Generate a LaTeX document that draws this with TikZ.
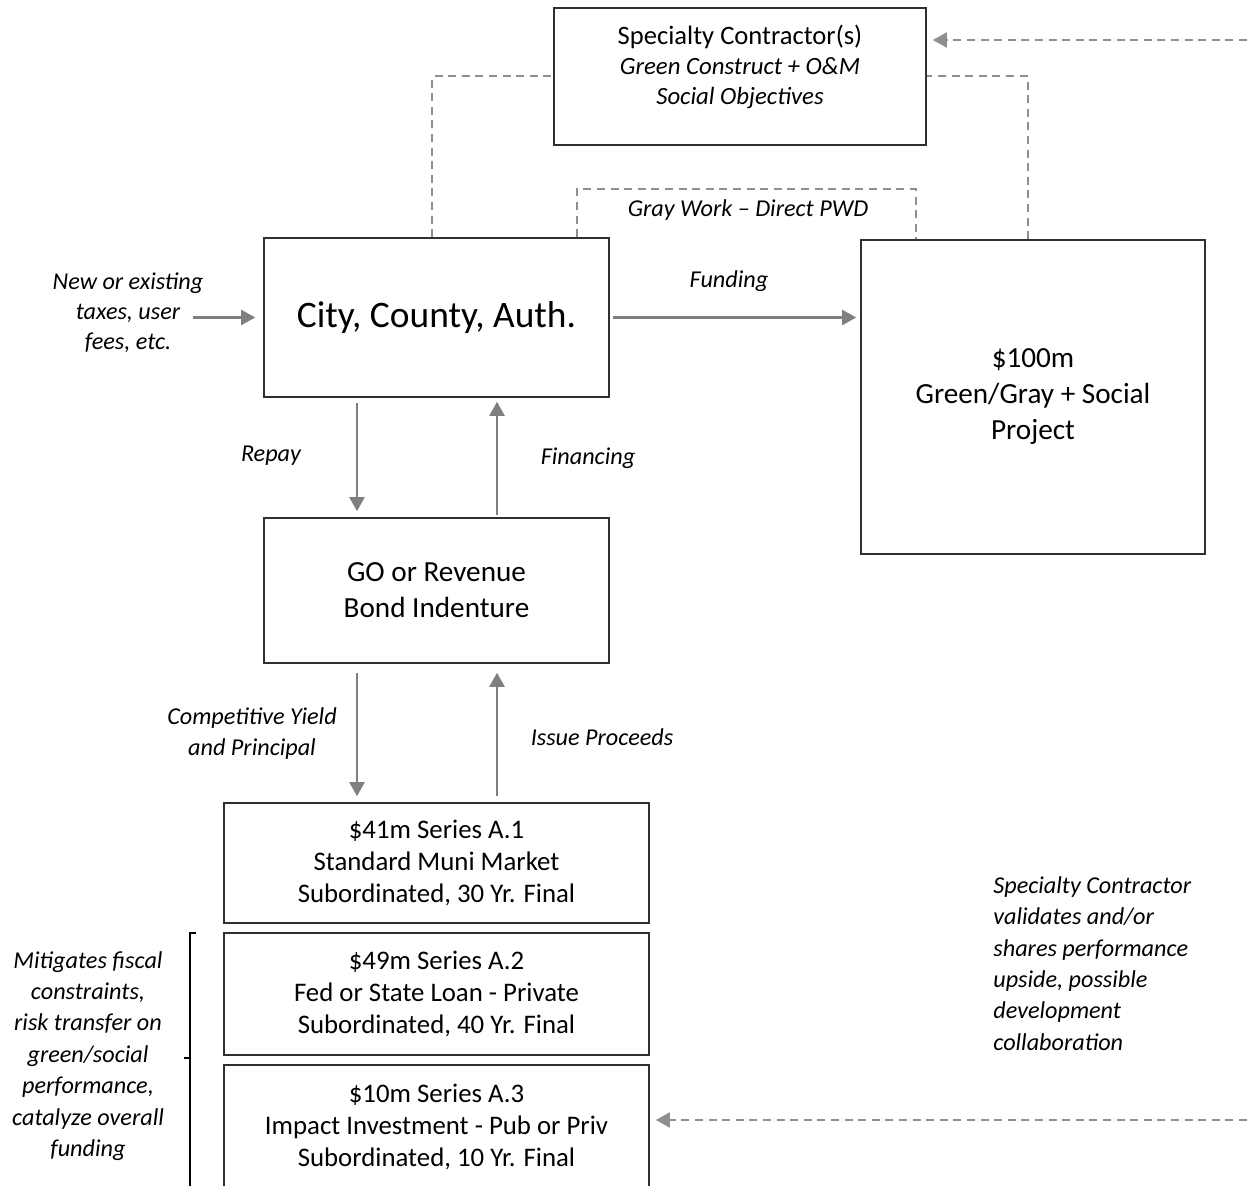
\documentclass[tikz,border=0pt]{standalone}
\usepackage{fontspec}
\setmainfont{Carlito}
\usepackage{tikz}
\usetikzlibrary{positioning,arrows.meta,calc}
\definecolor{flowgray}{HTML}{7F7F7F}
\definecolor{dashgray}{HTML}{8F8F8F}
\definecolor{edgegray}{HTML}{303030}
\tikzset{
  box/.style    ={draw=edgegray, line width=0.8pt, inner sep=0pt, align=center,
                  font=\fontsize{13.4}{16}\selectfont},
  bigbox/.style ={box, font=\fontsize{14.6}{18}\selectfont},
  lbl/.style    ={inner sep=0pt, align=center, font=\itshape\fontsize{12.1}{15.7}\selectfont},
  fl/.style     ={-{Triangle[length=7pt,width=7.5pt]}, draw=flowgray, line width=1.1pt},
  dashln/.style ={draw=dashgray, line width=1pt, dash pattern=on 4pt off 2.8pt},
  dasharr/.style={dashln, -{Triangle[length=7pt,width=7.5pt]}},
}

\begin{document}
\begin{tikzpicture}[x=0.5pt, y=-0.5pt]
  \useasboundingbox (0,0) rectangle (1247,1186);

  % ---- contractor ----------------------------------------------------
  \node[box, minimum width=186pt, minimum height=68.5pt] (spc) at (740,76.5) {};
  \node[inner sep=0pt, align=center, font=\fontsize{13.3}{15}\selectfont] (spctxt) at (740,67)
        {Specialty Contractor(s)\\
         \textit{\fontsize{12.4}{15}\selectfont Green Construct + O\&M}\\
         \textit{\fontsize{12.4}{15}\selectfont Social Objectives}};

  % ---- issuer and project --------------------------------------------
  \node[box, minimum width=172.5pt, minimum height=79.5pt,
        font=\fontsize{18.7}{22}\selectfont] (city) at (436.5,317.5)
        {City, County, Auth.};
  \node[bigbox, minimum width=172pt, minimum height=157pt] (prj) at (1033,397)
        {\$100m\\Green/Gray + Social\\Project};
  \node[lbl, font=\itshape\fontsize{12.1}{15}\selectfont] (tax) at (128,313)
        {New or existing\\taxes, user\\fees, etc.};

  % ---- bond indenture ------------------------------------------------
  \node[bigbox, minimum width=172.5pt, minimum height=72.5pt] (go) at (436.5,590.5)
        {GO or Revenue\\Bond Indenture};

  % ---- series --------------------------------------------------------
  \node[box, minimum width=212.5pt, minimum height=60pt] (a1) at (436.5,863)
        {\$41m Series A.1\\Standard Muni Market\\Subordinated, 30 Yr. Final};
  \node[box, minimum width=212.5pt, minimum height=61pt] (a2) at (436.5,994)
        {\$49m Series A.2\\Fed or State Loan - Private\\Subordinated, 40 Yr. Final};
  \node[box, minimum width=212.5pt, minimum height=62pt] (a3) at (436.5,1127)
        {\$10m Series A.3\\Impact Investment - Pub or Priv\\Subordinated, 10 Yr. Final};

  % ---- labels --------------------------------------------------------
  \node[lbl] (fund)  at (729,281) {Funding};
  \node[lbl] (repay) at (271,456) {Repay};
  \node[lbl] (fin)   at (588,458) {Financing};
  \node[lbl] (yield) at (252,733.5) {Competitive Yield\\and Principal};
  \node[lbl] (issue) at (602,737) {Issue Proceeds};
  \node[lbl] (gw)    at (748,210) {Gray Work -- Direct PWD};
  \node[lbl, align=left, anchor=west] (perf) at (993,963.5)
        {Specialty Contractor\\validates and/or\\shares performance\\upside, possible\\development\\collaboration};
  \node[lbl] (mitig) at (88,1056)
        {Mitigates fiscal\\constraints,\\risk transfer on\\green/social\\performance,\\catalyze overall\\funding};

  % ---- flows ---------------------------------------------------------
  \draw[fl, shorten >=4pt] ([xshift=-5.5pt]tax.east |- city.west) -- (city.west);
  \draw[fl, shorten <=1.5pt, shorten >=2pt] (city.east) -- (prj.west |- city.east);
  \draw[fl, shorten <=2.5pt, shorten >=3pt] ([xshift=-39.75pt]city.south) -- ([xshift=-39.75pt]go.north);
  \draw[fl, shorten <=1pt, shorten >=2pt] ([xshift=30.25pt]go.north) -- ([xshift=30.25pt]city.south);
  \draw[fl, shorten <=4.5pt, shorten >=3pt] ([xshift=-39.75pt]go.south) -- ([xshift=-39.75pt]a1.north);
  \draw[fl, shorten <=3pt, shorten >=4.5pt] ([xshift=30.25pt]a1.north) -- ([xshift=30.25pt]go.south);

  % ---- dashed links --------------------------------------------------
  \draw[dashln] ([xshift=-2.25pt]city.north) |- (spc.west);
  \draw[dashln] ([xshift=-2.5pt]prj.north) |- (spc.east);
  \draw[dashln] ([xshift=70.25pt]city.north) -- ++(0,-48) -| ([xshift=-58.5pt]prj.north);
  \coordinate (inTop) at (1247,40);
  \coordinate (inBot) at (1247,1120);
  \draw[dasharr, shorten >=3pt] (inTop) -- (inTop -| spc.east);
  \draw[dasharr, shorten >=3pt] (inBot) -- (inBot -| a3.east);

  % ---- bracket -------------------------------------------------------
  \draw[line width=0.8pt] (196,933) -- (190,933) -- (190,1200);
  \draw[line width=0.8pt] (190,1058) -- (184,1058);
\end{tikzpicture}
\end{document}
